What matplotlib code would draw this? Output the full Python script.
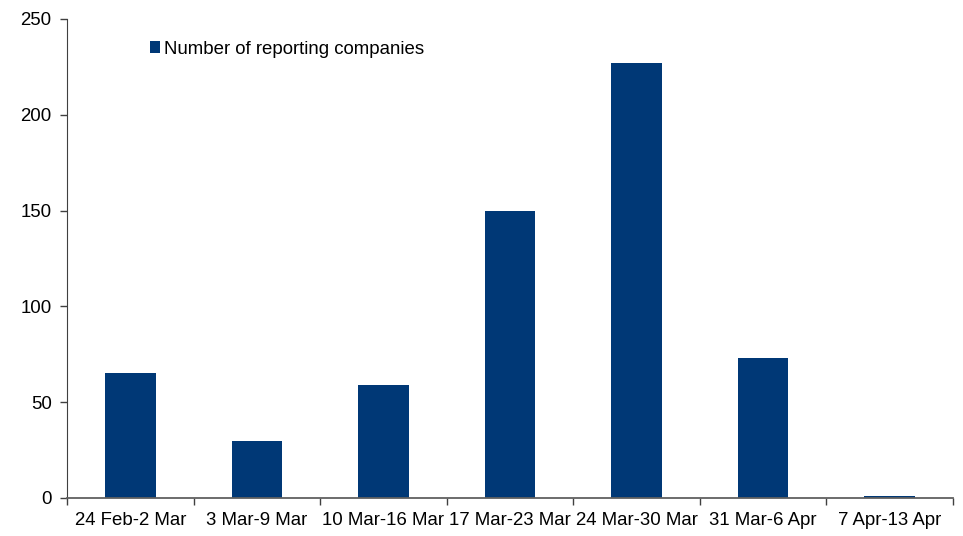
import matplotlib
matplotlib.use("Agg")
import matplotlib.pyplot as plt
import numpy as np

# --- Data ---
weeks = ["24 Feb-2 Mar", "3 Mar-9 Mar", "10 Mar-16 Mar", "17 Mar-23 Mar",
         "24 Mar-30 Mar", "31 Mar-6 Apr", "7 Apr-13 Apr"]
companies = [65, 30, 59, 150, 227, 73, 1]

plt.rcParams["font.family"] = ["Liberation Sans", "DejaVu Sans"]

fig = plt.figure(figsize=(9.63, 5.36), dpi=100)
ax = fig.add_axes([0.0696, 0.0709, 0.92, 0.8937])

x = np.arange(len(weeks))
ax.bar(x, companies, width=0.4, color="#003876", label="Number of reporting companies")

ax.set_xlim(-0.5, len(weeks) - 0.5)
ax.set_ylim(0, 250)
ax.set_yticks(range(0, 251, 50))

# category labels centred, ticks on the boundaries
ax.set_xticks(x)
ax.set_xticklabels(weeks, fontsize=13.4)
ax.tick_params(axis="x", which="major", length=0, pad=10)
ax.set_xticks(np.arange(-0.5, len(weeks)), minor=True)
ax.tick_params(axis="x", which="minor", length=5, color="#404040", width=1)
ax.tick_params(axis="y", labelsize=13.4, length=5, width=1, color="#404040", pad=6)

for s in ["top", "right"]:
    ax.spines[s].set_visible(False)
ax.spines["left"].set_color("#404040")
ax.spines["bottom"].set_color("#606060")
ax.spines["bottom"].set_linewidth(1.3)

ax.legend(loc="upper left", bbox_to_anchor=(0.075, 0.99), frameon=False,
          fontsize=13.4, handlelength=0.55, handleheight=0.55, handletextpad=0.2)

fig.savefig("out.png", dpi=100)
